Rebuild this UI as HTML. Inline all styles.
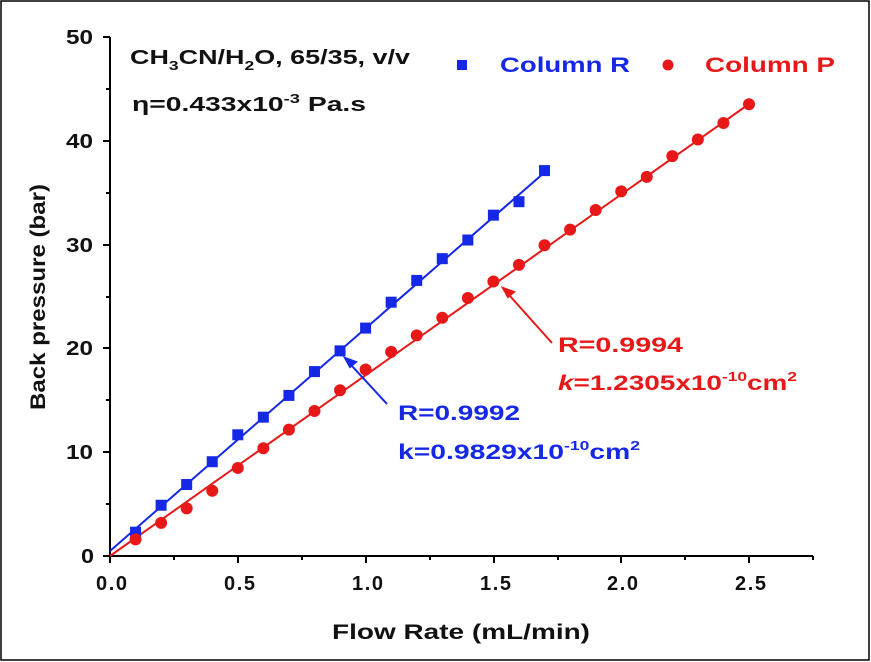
<!DOCTYPE html>
<html><head><style>body{margin:0;background:#fff}svg{display:block}</style></head><body>
<svg width="871" height="662" xmlns="http://www.w3.org/2000/svg" font-family="Liberation Sans, Arial, sans-serif" font-weight="bold">
<rect x="1" y="1" width="868" height="659" fill="#fff" stroke="#000" stroke-width="1.5"/>
<g stroke="#000" stroke-width="2" fill="none">
<path d="M110,37 V556 H813"/>
<path d="M110,556 v7 M174,556 v4 M238,556 v7 M302,556 v4 M366,556 v7 M430,556 v4 M494,556 v7 M558,556 v4 M621,556 v7 M685,556 v4 M749,556 v7 M813,556 v4"/>
<path d="M110,556 h-7 M110,504 h-4 M110,452 h-7 M110,400 h-4 M110,348 h-7 M110,297 h-4 M110,245 h-7 M110,193 h-4 M110,141 h-7 M110,89 h-4 M110,37 h-7"/>
</g>
<g font-size="20" fill="#111" lengthAdjust="spacingAndGlyphs">
<text x="96" y="590" textLength="31">0.0</text><text x="224" y="590" textLength="31">0.5</text><text x="352" y="590" textLength="31">1.0</text><text x="480" y="590" textLength="31">1.5</text><text x="607" y="590" textLength="31">2.0</text><text x="735" y="590" textLength="31">2.5</text>
</g>
<g font-size="20" fill="#111">
<text x="81" y="563" textLength="13" lengthAdjust="spacingAndGlyphs">0</text>
<text x="66" y="459" textLength="27" lengthAdjust="spacingAndGlyphs">10</text>
<text x="66" y="355" textLength="27" lengthAdjust="spacingAndGlyphs">20</text>
<text x="66" y="252" textLength="27" lengthAdjust="spacingAndGlyphs">30</text>
<text x="66" y="148" textLength="27" lengthAdjust="spacingAndGlyphs">40</text>
<text x="66" y="44" textLength="27" lengthAdjust="spacingAndGlyphs">50</text>
</g>
<text x="332" y="639" font-size="21" fill="#111" textLength="258" lengthAdjust="spacingAndGlyphs">Flow Rate (mL/min)</text>
<text transform="translate(45,410) rotate(-90)" font-size="21" fill="#111" textLength="226" lengthAdjust="spacingAndGlyphs">Back pressure (bar)</text>
<text x="130" y="64" font-size="20" fill="#111" textLength="280" lengthAdjust="spacingAndGlyphs">CH<tspan font-size="13" dy="6">3</tspan><tspan dy="-6">CN/H</tspan><tspan font-size="13" dy="6">2</tspan><tspan dy="-6">O, 65/35, v/v</tspan></text>
<text x="132" y="111" font-size="20" fill="#111" textLength="234" lengthAdjust="spacingAndGlyphs">η=0.433x10<tspan font-size="13" dy="-8">-3</tspan><tspan dy="8"> Pa.s</tspan></text>
<rect x="457" y="60" width="10" height="10" fill="#1428e6"/>
<text x="500" y="72" font-size="21" fill="#1428e6" textLength="130" lengthAdjust="spacingAndGlyphs">Column R</text>
<circle cx="668" cy="65" r="5.5" fill="#e81818"/>
<text x="705" y="72" font-size="21" fill="#e81818" textLength="130" lengthAdjust="spacingAndGlyphs">Column P</text>
<line x1="110" y1="551" x2="545" y2="172" stroke="#1428e6" stroke-width="2"/>
<line x1="110" y1="556" x2="749" y2="104" stroke="#e81818" stroke-width="2"/>
<g fill="#1428e6" id="b"></g>
<g fill="#e81818" id="r"></g>
<g stroke="#1428e6" stroke-width="2" fill="#1428e6"><line x1="387" y1="404" x2="352" y2="366"/><path d="M345,358 l11,4 l-6,5 z"/></g>
<g stroke="#e81818" stroke-width="2" fill="#e81818"><line x1="552" y1="343" x2="510" y2="296"/><path d="M503,288 l11,4 l-6,5 z"/></g>
<text x="398" y="420" font-size="21" fill="#1428e6" textLength="122" lengthAdjust="spacingAndGlyphs">R=0.9992</text>
<text x="398" y="459" font-size="21" fill="#1428e6" textLength="242" lengthAdjust="spacingAndGlyphs">k=0.9829x10<tspan font-size="13" dy="-9">-10</tspan><tspan dy="9">cm</tspan><tspan font-size="13" dy="-9">2</tspan></text>
<text x="558" y="352" font-size="21" fill="#e81818" textLength="125" lengthAdjust="spacingAndGlyphs">R=0.9994</text>
<text x="558" y="390" font-size="21" fill="#e81818" textLength="239" lengthAdjust="spacingAndGlyphs"><tspan font-style="italic">k</tspan>=1.2305x10<tspan font-size="13" dy="-9">-10</tspan><tspan dy="9">cm</tspan><tspan font-size="13" dy="-9">2</tspan></text>
<script>
var B=[2.3,4.9,6.9,9.1,11.7,13.4,15.5,17.8,19.8,22.0,24.5,26.6,28.7,30.5,32.9,34.2,37.2];
var R=[1.6,3.2,4.6,6.3,8.5,10.4,12.2,14.0,16.0,18.0,19.7,21.3,23.0,24.9,26.5,28.1,30.0,31.5,33.4,35.2,36.6,38.6,40.2,41.8,43.6];
var ns="http://www.w3.org/2000/svg";
function X(v){return 110+v*255.6}function Y(v){return 556-v*10.36}
B.forEach(function(v,i){var e=document.createElementNS(ns,"rect");e.setAttribute("x",X((i+1)/10)-5.5);e.setAttribute("y",Y(v)-5.5);e.setAttribute("width",11);e.setAttribute("height",11);document.getElementById("b").appendChild(e)});
R.forEach(function(v,i){var e=document.createElementNS(ns,"circle");e.setAttribute("cx",X((i+1)/10));e.setAttribute("cy",Y(v));e.setAttribute("r",6);document.getElementById("r").appendChild(e)});
</script>
</svg>
</body></html>
